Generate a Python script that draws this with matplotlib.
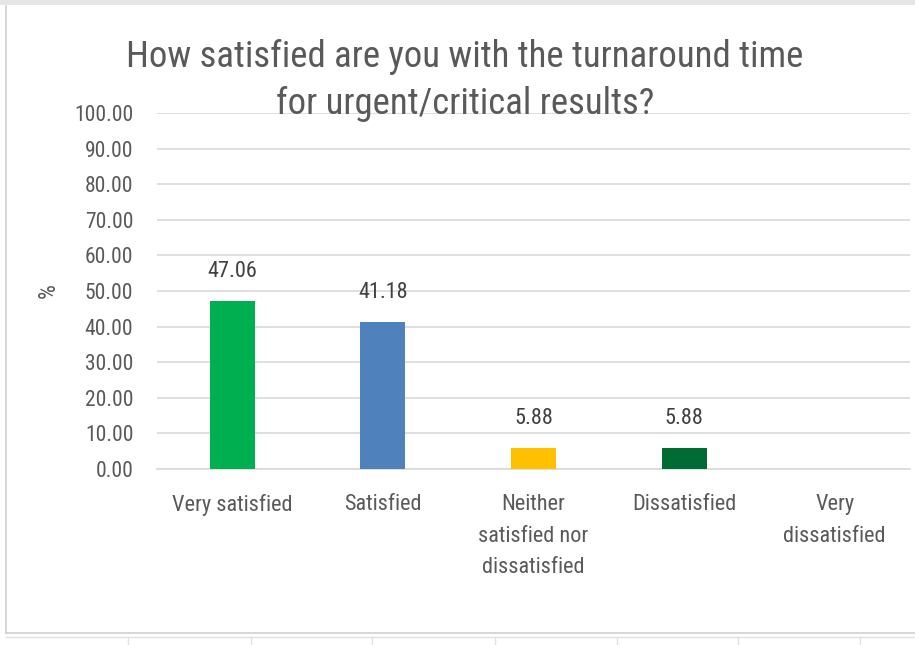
import matplotlib
matplotlib.use("Agg")
import matplotlib.pyplot as plt
from matplotlib.patches import Rectangle
from matplotlib.lines import Line2D

categories = ["Very satisfied", "Satisfied", "Neither\nsatisfied nor\ndissatisfied",
              "Dissatisfied", "Very\ndissatisfied"]
values = [47.06, 41.18, 5.88, 5.88, 0.0]
labels = ["47.06", "41.18", "5.88", "5.88", None]
colors = ["#00B050", "#4F81BD", "#FFC000", "#006B35", "#A5A5A5"]
yticks = [0, 10, 20, 30, 40, 50, 60, 70, 80, 90, 100]
title_lines = ["How satisfied are you with the turnaround time",
               "for urgent/critical results?"]

fam = ["Liberation Sans Narrow", "Roboto Condensed", "Open Sans Condensed", "Liberation Sans", "DejaVu Sans"]
plt.rcParams['font.family'] = fam
txt = "#595959"
grid = "#D9D9D9"

W, H = 915, 645
fig = plt.figure(figsize=(W / 100, H / 100), dpi=100)
fig.patch.set_facecolor("white")

# chart border & spreadsheet-like background lines
fig.add_artist(Rectangle((0, 1 - 5 / H), 1, 5 / H, transform=fig.transFigure,
                         facecolor="#E6E6E6", edgecolor="none"))
fig.add_artist(Line2D([6 / W, 6 / W], [1 - 6 / H, 1 - 633 / H], transform=fig.transFigure,
                      color="#D0D0D0", lw=1.2))
fig.add_artist(Line2D([6 / W, 1], [1 - 633 / H, 1 - 633 / H], transform=fig.transFigure,
                      color="#D0D0D0", lw=1.2))
fig.add_artist(Line2D([6 / W, 1], [1 - 637 / H, 1 - 637 / H], transform=fig.transFigure,
                      color="#E0E0E0", lw=1.0))
for xp in [128, 251, 372, 495, 617, 738, 860]:
    fig.add_artist(Line2D([xp / W, xp / W], [0, 1 - 637 / H], transform=fig.transFigure,
                          color="#E0E0E0", lw=1.0))

left, right = 157 / W, 910 / W
bottom, top = 1 - 469 / H, 1 - 113 / H
ax = fig.add_axes([left, bottom, right - left, top - bottom])
x = list(range(len(categories)))
bars = ax.bar(x, values, width=0.30, color=colors, zorder=3)
ax.set_xlim(-0.5, len(categories) - 0.5)
ax.set_ylim(0, 100)
ax.set_yticks(yticks)
ax.set_yticklabels([f"{v:.2f}" for v in yticks])
ax.set_xticks(x)
ax.set_xticklabels(categories, linespacing=1.66, va="top")
for s in ["top", "right", "left"]:
    ax.spines[s].set_visible(False)
ax.spines["bottom"].set_color(grid)
ax.spines["bottom"].set_linewidth(1.2)
ax.yaxis.grid(True, color=grid, lw=1.2, zorder=0)
ax.tick_params(axis="y", length=0, colors=txt, labelsize=15.5, pad=17)
ax.tick_params(axis="x", length=0, colors=txt, labelsize=16, pad=18)
ax.set_ylabel("%", color=txt, fontsize=17, labelpad=10)

for xi, v, lab in zip(x, values, labels):
    if lab:
        ax.annotate(lab, (xi, v), xytext=(0, 14), textcoords="offset points",
                    ha="center", va="bottom", color="#404040", fontsize=16)

for line, base in zip(title_lines, [67, 114]):
    fig.text(465 / W, 1 - base / H, line, ha="center", va="baseline", color=txt,
             fontsize=26.5, zorder=5)

fig.savefig("out.png", dpi=100, facecolor="white")
